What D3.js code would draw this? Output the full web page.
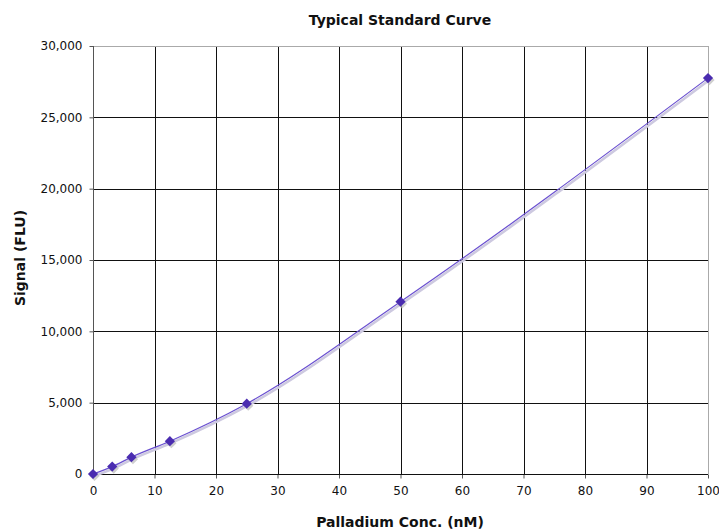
<!DOCTYPE html>
<html>
<head>
<meta charset="utf-8">
<title>Typical Standard Curve</title>
<style>
body { margin: 0; background: #fff; }
text { font-family: "DejaVu Sans", sans-serif; fill: #111; }
.grid line { stroke: #111; stroke-width: 1; }
.axis path { display: none; }
.axis line { stroke: #555; }
.axis text { font-size: 12px; }
</style>
</head>
<body>
<svg width="719" height="531"></svg>
<script src="https://d3js.org/d3.v7.min.js"></script>
<script>
// concentration (nM) and signal (FLU)
var conc = [0, 3.125, 6.25, 12.5, 25, 50, 100];
var signal = [0, 520, 1180, 2300, 4930, 12080, 27750];
var xTicks = [0, 10, 20, 30, 40, 50, 60, 70, 80, 90, 100];
var yTicks = [0, 5000, 10000, 15000, 20000, 25000, 30000];

var svg = d3.select("svg");
var pLeft = 93, pRight = 708, pTop = 46, pBottom = 474;

var x = d3.scaleLinear().domain([0, 100]).range([pLeft, pRight]);
var y = d3.scaleLinear().domain([0, 30000]).range([pBottom, pTop]);

var pts = conc.map(function(c, i) { return [c, signal[i]]; });

// grid
var g = svg.append("g").attr("class", "grid");
g.selectAll(".vx").data(xTicks.slice(1, -1)).enter().append("line")
  .attr("x1", function(d) { return Math.round(x(d)) + 0.5; })
  .attr("x2", function(d) { return Math.round(x(d)) + 0.5; })
  .attr("y1", pTop).attr("y2", pBottom);
g.selectAll(".hy").data(yTicks.slice(1, -1)).enter().append("line")
  .attr("y1", function(d) { return Math.round(y(d)) + 0.5; })
  .attr("y2", function(d) { return Math.round(y(d)) + 0.5; })
  .attr("x1", pLeft).attr("x2", pRight);

// plot border (top/right light gray)
svg.append("line").attr("x1", pLeft).attr("x2", pRight + 0.5).attr("y1", pTop + 0.5).attr("y2", pTop + 0.5).attr("stroke", "#aaa");
svg.append("line").attr("x1", pRight + 0.5).attr("x2", pRight + 0.5).attr("y1", pTop).attr("y2", pBottom).attr("stroke", "#aaa");

// axes
svg.append("g").attr("class", "axis")
  .attr("transform", "translate(0," + (pBottom + 0.5) + ")")
  .call(d3.axisBottom(x).tickValues(xTicks).tickSize(4).tickPadding(8).tickFormat(d3.format("d")));
svg.append("g").attr("class", "axis")
  .attr("transform", "translate(" + (pLeft + 0.5) + ",0)")
  .call(d3.axisLeft(y).tickValues(yTicks).tickSize(4).tickPadding(7).tickFormat(d3.format(",")));
svg.append("line").attr("x1", pLeft + 0.5).attr("x2", pLeft + 0.5).attr("y1", pTop).attr("y2", pBottom).attr("stroke", "#555");
svg.append("line").attr("x1", pLeft).attr("x2", pRight).attr("y1", pBottom + 0.5).attr("y2", pBottom + 0.5).attr("stroke", "#111");

// curve
var line = d3.line()
  .x(function(d) { return x(d[0]); })
  .y(function(d) { return y(d[1]); })
  .curve(d3.curveMonotoneX);

svg.append("path").datum(pts)
  .attr("d", line).attr("fill", "none")
  .attr("stroke", "#cdc9e0").attr("stroke-width", 2.5)
  .attr("transform", "translate(1,2)");
svg.append("path").datum(pts)
  .attr("d", line).attr("fill", "none")
  .attr("stroke", "#6a50d0").attr("stroke-width", 1.2);

// diamonds (squares turned 45 degrees)
var sym = d3.symbol().type(d3.symbolSquare).size(52);
svg.selectAll(".shadow").data(pts).enter().append("path")
  .attr("d", sym).attr("fill", "#bbb").attr("opacity", 0.7)
  .attr("transform", function(d) { return "translate(" + (x(d[0]) + 1.5) + "," + (y(d[1]) + 2) + ") rotate(45)"; });
svg.selectAll(".pt").data(pts).enter().append("path")
  .attr("d", sym).attr("fill", "#4a2cb0")
  .attr("transform", function(d) { return "translate(" + x(d[0]) + "," + y(d[1]) + ") rotate(45)"; });

// titles
svg.append("text").attr("x", 400).attr("y", 25).attr("text-anchor", "middle")
  .attr("font-size", 14).attr("font-weight", "bold").text("Typical Standard Curve");
svg.append("text").attr("x", 400).attr("y", 527).attr("text-anchor", "middle")
  .attr("font-size", 14).attr("font-weight", "bold").text("Palladium Conc. (nM)");
svg.append("text").attr("transform", "translate(25,258) rotate(-90)").attr("text-anchor", "middle")
  .attr("font-size", 14).attr("font-weight", "bold").text("Signal (FLU)");
</script>
</body>
</html>
